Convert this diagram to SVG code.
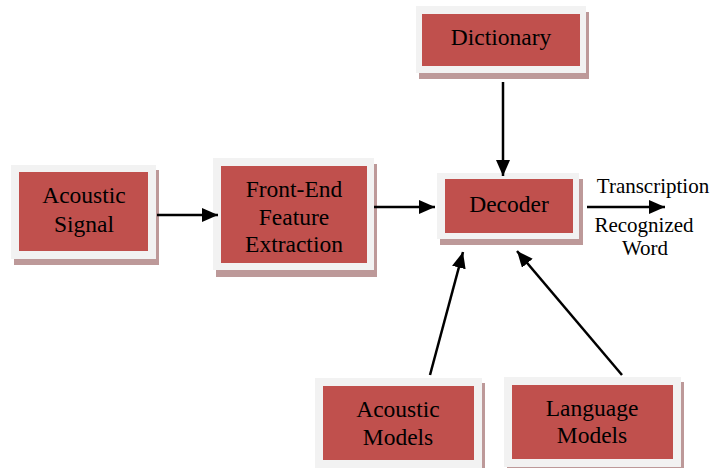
<svg xmlns="http://www.w3.org/2000/svg" width="723" height="468" viewBox="0 0 723 468">
<style>
.sh{fill:#bd9999}
.out{fill:#f2f2f2}
.in{fill:#c0504d}
text{font-family:'Liberation Serif','Times New Roman','DejaVu Serif',serif;fill:#000;text-anchor:middle}
.t{font-size:23.5px}
.l{font-size:21px}
.c{stroke:#000;stroke-width:2.5;fill:none;marker-end:url(#ah)}
</style>
<defs>
<marker id="ah" markerUnits="userSpaceOnUse" markerWidth="16" markerHeight="14" refX="16" refY="7" orient="auto">
<path d="M0,0 L16,7 L0,14 z" fill="#000"/>
</marker>
</defs>
<rect width="723" height="468" fill="#fff"/>
<g id="acoustic-signal">
<rect class="sh" x="14" y="170" width="145" height="95"/>
<rect class="out" x="11" y="165" width="145" height="94"/>
<rect class="in" x="19" y="172" width="129" height="79"/>
<text class="t" x="84" y="203" font-family="Liberation Serif, serif">Acoustic</text>
<text class="t" x="84" y="232" font-family="Liberation Serif, serif">Signal</text>
</g>
<g id="front-end">
<rect class="sh" x="216" y="164" width="161" height="113"/>
<rect class="out" x="213" y="158" width="161" height="112"/>
<rect class="in" x="221" y="166" width="146" height="97"/>
<text class="t" x="294" y="197">Front-End</text>
<text class="t" x="294" y="225">Feature</text>
<text class="t" x="294" y="252">Extraction</text>
</g>
<g id="dictionary">
<rect class="sh" x="419" y="12" width="170" height="67"/>
<rect class="out" x="416" y="6" width="170" height="67"/>
<rect class="in" x="422" y="14" width="158" height="52"/>
<text class="t" x="501" y="45">Dictionary</text>
</g>
<g id="decoder">
<rect class="sh" x="440" y="179" width="143" height="66"/>
<rect class="out" x="437" y="173" width="142" height="66"/>
<rect class="in" x="445" y="179" width="128" height="54"/>
<text class="t" x="509" y="212">Decoder</text>
</g>
<g id="acoustic-models">
<rect class="sh" x="318" y="383" width="167" height="90"/>
<rect class="out" x="315" y="378" width="167" height="92"/>
<rect class="in" x="323" y="386" width="151" height="74"/>
<text class="t" x="398" y="417">Acoustic</text>
<text class="t" x="398" y="445">Models</text>
</g>
<g id="language-models">
<rect class="sh" x="507" y="382" width="177" height="90"/>
<rect class="out" x="504" y="377" width="177" height="90"/>
<rect class="in" x="512" y="385" width="161" height="74"/>
<text class="t" x="592" y="416">Language</text>
<text class="t" x="592" y="443">Models</text>
</g>
<g id="labels">
<text class="l" x="653" y="193">Transcription</text>
<text class="l" x="644" y="232">Recognized</text>
<text class="l" x="645" y="255">Word</text>
</g>
<g id="connectors">
<line class="c" x1="157" y1="215" x2="218" y2="215"/>
<line class="c" x1="374" y1="207" x2="435" y2="207"/>
<line class="c" x1="503" y1="82" x2="503" y2="176"/>
<line class="c" x1="587" y1="207" x2="665" y2="207"/>
<line class="c" x1="430" y1="375" x2="463" y2="252"/>
<line class="c" x1="622" y1="375" x2="517" y2="251"/>
</g>
</svg>
